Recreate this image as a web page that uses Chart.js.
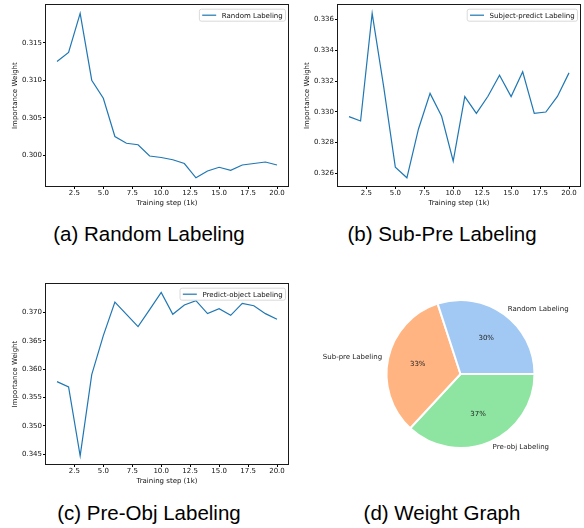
<!DOCTYPE html>
<html>
<head>
<meta charset="utf-8">
<script src="https://cdn.jsdelivr.net/npm/chart.js@4.4.0/dist/chart.umd.min.js"></script>
<style>
  body { margin: 0; background: #fff; }
  #wrap { position: relative; width: 584px; height: 528px; }
  canvas { position: absolute; }
  .cap {
    position: absolute; width: 292px; text-align: center;
    font-family: "Liberation Sans", Arial, sans-serif;
    font-size: 20.5px; line-height: 24px; color: #000;
  }
</style>
</head>
<body>
<div id="wrap">
  <canvas id="chartA" width="292" height="210" style="left:0;top:0"></canvas>
  <canvas id="chartB" width="292" height="210" style="left:292px;top:0"></canvas>
  <canvas id="chartC" width="292" height="209" style="left:0;top:279px"></canvas>
  <canvas id="chartD" width="292" height="210" style="left:292px;top:279px"></canvas>
  <div class="cap" style="left:3px;top:222px">(a) Random Labeling</div>
  <div class="cap" style="left:296px;top:222px">(b) Sub-Pre Labeling</div>
  <div class="cap" style="left:3px;top:501px">(c) Pre-Obj Labeling</div>
  <div class="cap" style="left:296px;top:501px">(d) Weight Graph</div>
</div>
<script>
// training steps (x1k)
const steps = [1, 2, 3, 4, 5, 6, 7, 8, 9, 10, 11, 12, 13, 14, 15, 16, 17, 18, 19, 20];

const randomWeights = [0.3125, 0.3137, 0.3189, 0.3100, 0.3076, 0.3025, 0.3016, 0.3014, 0.2999, 0.2997,
  0.2994, 0.2989, 0.2970, 0.2979, 0.2984, 0.2980, 0.2987, 0.2989, 0.2991, 0.2987];
const subPreWeights = [0.32969, 0.32941, 0.33639, 0.3316, 0.32641, 0.32572, 0.32889, 0.33120, 0.32971, 0.32680,
  0.33099, 0.32990, 0.33101, 0.33238, 0.33099, 0.33260, 0.32990, 0.32999, 0.33100, 0.33253];
const preObjWeights = [0.35779, 0.35685, 0.34471, 0.35903, 0.36589, 0.37182, 0.36965, 0.36748, 0.37047, 0.37352,
  0.36965, 0.37129, 0.37205, 0.36977, 0.37065, 0.36947, 0.37158, 0.37117, 0.36977, 0.36877];

const xTicks = [2.5, 5.0, 7.5, 10.0, 12.5, 15.0, 17.5, 20.0];
const randomTicks = [0.300, 0.305, 0.310, 0.315];
const subPreTicks = [0.326, 0.328, 0.330, 0.332, 0.334, 0.336];
const preObjTicks = [0.345, 0.350, 0.355, 0.360, 0.365, 0.370];

const pieLabels = ['Random Labeling', 'Sub-pre Labeling', 'Pre-obj Labeling'];
const pieWeights = [30.0, 33.1, 36.9];
const pieColors = ['#a1c9f4', '#ffb482', '#8de5a1'];

Chart.defaults.font.family = '"DejaVu Sans", sans-serif';
Chart.defaults.font.size = 7;
Chart.defaults.color = '#111';
Chart.defaults.animation = false;

// matplotlib style box around the axes
const frame = {
  id: 'frame',
  afterDatasetsDraw(chart) {
    const { ctx, chartArea: a } = chart;
    const l = Math.round(a.left) - 0.5, t = Math.round(a.top) - 0.5;
    const r = Math.round(a.right) + 0.5, b = Math.round(a.bottom) + 0.5;
    ctx.save();
    ctx.strokeStyle = '#1a1a1a';
    ctx.lineWidth = 1;
    ctx.strokeRect(l, t, r - l, b - t);
    ctx.restore();
  }
};

// legend with a rounded frame, upper right
const boxLegend = {
  id: 'boxLegend',
  afterDraw(chart) {
    const ds = chart.data.datasets[0];
    const a = chart.chartArea;
    const ctx = chart.ctx;
    ctx.save();
    ctx.font = '7px "DejaVu Sans"';
    const tw = ctx.measureText(ds.label).width;
    const w = 2.8 + 14 + 5.6 + tw + 2.8;
    const h = 12;
    const x = a.right - 2.5 - w;
    const y = a.top + 4;
    ctx.beginPath();
    ctx.roundRect(x, y, w, h, 2);
    ctx.fillStyle = 'rgba(255,255,255,0.8)';
    ctx.fill();
    ctx.strokeStyle = '#d0d0d0';
    ctx.lineWidth = 0.8;
    ctx.stroke();
    ctx.beginPath();
    ctx.moveTo(x + 2.8, y + h / 2);
    ctx.lineTo(x + 16.8, y + h / 2);
    ctx.strokeStyle = ds.borderColor;
    ctx.lineWidth = 1.2;
    ctx.stroke();
    ctx.fillStyle = '#111';
    ctx.textBaseline = 'middle';
    ctx.fillText(ds.label, x + 22.4, y + h / 2 + 0.5);
    ctx.restore();
  }
};

function makeLine(id, values, label, yTicks) {
  const lo = Math.min(...values), hi = Math.max(...values);
  const pad = (hi - lo) * 0.05;
  new Chart(document.getElementById(id), {
    type: 'line',
    data: {
      datasets: [{
        label: label,
        data: steps.map((s, i) => ({ x: s, y: values[i] })),
        borderColor: '#1f77b4',
        borderWidth: 1.2,
        pointRadius: 0,
        tension: 0,
        fill: false
      }]
    },
    options: {
      responsive: false,
      layout: { padding: { top: 5, right: 4, left: 0, bottom: 0 } },
      plugins: { legend: { display: false }, tooltip: { enabled: false } },
      scales: {
        x: {
          type: 'linear',
          min: 0.05,
          max: 20.95,
          afterBuildTicks: axis => { axis.ticks = xTicks.map(v => ({ value: v })); },
          afterFit: axis => { axis.height = 24; },
          ticks: { callback: v => v.toFixed(1), padding: 0, maxRotation: 0, autoSkip: false },
          grid: { drawOnChartArea: false, drawTicks: true, tickLength: 3, color: '#000' },
          border: { display: false },
          title: { display: true, text: 'Training step (1k)', padding: { top: 0, bottom: 2.5 } }
        },
        y: {
          min: lo - pad,
          max: hi + pad,
          afterBuildTicks: axis => { axis.ticks = yTicks.map(v => ({ value: v })); },
          afterFit: axis => { axis.width = 46; },
          ticks: { callback: v => v.toFixed(3), padding: 1 },
          grid: { drawOnChartArea: false, drawTicks: true, tickLength: 3, color: '#000' },
          border: { display: false },
          title: { display: true, text: 'Importance Weight', padding: { top: 10.8, bottom: 0 } }
        }
      }
    },
    plugins: [frame, boxLegend]
  });
}

makeLine('chartA', randomWeights, 'Random Labeling', randomTicks);
makeLine('chartB', subPreWeights, 'Subject-predict Labeling', subPreTicks);
makeLine('chartC', preObjWeights, 'Predict-object Labeling', preObjTicks);

// slice names outside, percentages inside
const pieText = {
  id: 'pieText',
  afterDatasetsDraw(chart) {
    const ctx = chart.ctx;
    const meta = chart.getDatasetMeta(0);
    const vals = chart.data.datasets[0].data;
    const total = vals.reduce((s, v) => s + v, 0);
    ctx.save();
    ctx.font = '7px "DejaVu Sans"';
    ctx.fillStyle = '#222';
    ctx.textBaseline = 'middle';
    meta.data.forEach((arc, i) => {
      const p = arc.getProps(['x', 'y', 'startAngle', 'endAngle', 'outerRadius'], true);
      const mid = (p.startAngle + p.endAngle) / 2;
      const c = Math.cos(mid), s = Math.sin(mid);
      const r = p.outerRadius - 1;
      ctx.textAlign = c > 0 ? 'left' : 'right';
      ctx.fillText(chart.data.labels[i], p.x + c * 1.1 * r, p.y + s * 1.1 * r);
      ctx.textAlign = 'center';
      ctx.fillText(Math.round(vals[i] / total * 100) + '%', p.x + c * 0.6 * r, p.y + s * 0.6 * r);
    });
    ctx.restore();
  }
};

// matplotlib goes counter-clockwise from 3 o'clock, Chart.js clockwise: reverse the order
new Chart(document.getElementById('chartD'), {
  type: 'pie',
  data: {
    labels: pieLabels.slice().reverse(),
    datasets: [{
      data: pieWeights.slice().reverse(),
      backgroundColor: pieColors.slice().reverse(),
      borderColor: '#fff',
      borderWidth: 2
    }]
  },
  options: {
    responsive: false,
    rotation: 90,
    radius: 74,
    layout: { padding: { left: 45, right: 0, top: 0, bottom: 20 } },
    plugins: { legend: { display: false }, tooltip: { enabled: false } }
  },
  plugins: [pieText]
});
</script>
</body>
</html>
